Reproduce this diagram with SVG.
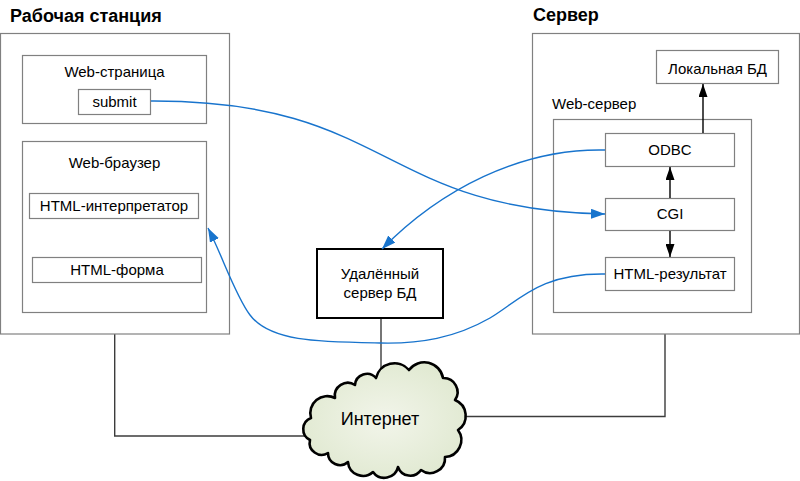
<svg xmlns="http://www.w3.org/2000/svg" width="800" height="481" viewBox="0 0 800 481">
<style>
  text { font-family: "Liberation Sans", Arial, sans-serif; fill: #000; }
  .t { font-size: 15px; text-anchor: middle; }
  .title { font-size: 18px; font-weight: bold; }
  .box { fill: #fff; stroke: #808080; stroke-width: 1.2; }
  .net { fill: none; stroke: #3c3c3c; stroke-width: 1.4; }
  .blue { fill: none; stroke: #1874cd; stroke-width: 1.4; marker-end: url(#ab); }
  .blk { fill: none; stroke: #000; stroke-width: 1.4; marker-end: url(#ak); }
</style>
<defs>
  <marker id="ab" viewBox="0 0 14 10" refX="14" refY="5" markerWidth="14" markerHeight="10" markerUnits="userSpaceOnUse" orient="auto">
    <path d="M0,0 L14,5 L0,10 z" fill="#1874cd"/>
  </marker>
  <marker id="ak" viewBox="0 0 13 9" refX="13" refY="4.5" markerWidth="13" markerHeight="9" markerUnits="userSpaceOnUse" orient="auto">
    <path d="M0,0 L13,4.5 L0,9 z" fill="#000"/>
  </marker>
  <radialGradient id="cg" cx="0.5" cy="0.5" r="0.6">
    <stop offset="0" stop-color="#f2f5ea"/>
    <stop offset="1" stop-color="#dfe8cf"/>
  </radialGradient>
</defs>

<g id="network">
  <path class="net" d="M114.7,334 V436 H306"/>
  <path class="net" d="M665,334 V416.5 H458"/>
  <path class="net" d="M381,318 V376"/>
</g>

<g id="workstation">
  <text class="title" x="10" y="22">Рабочая станция</text>
  <rect class="box" x="0.5" y="33.5" width="229" height="300.5"/>
</g>
<g id="webpage">
  <rect class="box" x="22.5" y="55.5" width="184" height="68"/>
  <text class="t" x="114.5" y="77">Web-страница</text>
</g>
<g id="submit">
  <rect class="box" x="78.5" y="89.5" width="72" height="25"/>
  <text class="t" x="114.5" y="107">submit</text>
</g>
<g id="browser">
  <rect class="box" x="22.5" y="141.5" width="184" height="171"/>
  <text class="t" x="114.5" y="168">Web-браузер</text>
</g>
<g id="interpreter">
  <rect class="box" x="29.5" y="193.5" width="169" height="25"/>
  <text class="t" x="114" y="211">HTML-интерпретатор</text>
</g>
<g id="form">
  <rect class="box" x="32.5" y="257.5" width="169" height="25"/>
  <text class="t" x="117" y="275">HTML-форма</text>
</g>

<g id="server">
  <text class="title" x="533" y="21">Сервер</text>
  <rect class="box" x="532.5" y="33.5" width="267" height="300.5"/>
</g>
<g id="localdb">
  <rect class="box" x="656.5" y="50.5" width="122" height="33"/>
  <text class="t" x="717.5" y="74">Локальная БД</text>
</g>
<g id="webserver">
  <text x="552" y="109" style="font-size:15px">Web-сервер</text>
  <rect class="box" x="553.5" y="119.5" width="198" height="193"/>
</g>
<g id="odbc">
  <rect class="box" x="605.5" y="133.5" width="129" height="33"/>
  <text class="t" x="670" y="155">ODBC</text>
</g>
<g id="cgi">
  <rect class="box" x="605.5" y="198.5" width="129" height="32"/>
  <text class="t" x="670" y="219">CGI</text>
</g>
<g id="result">
  <rect class="box" x="605.5" y="257.5" width="129" height="33"/>
  <text class="t" x="670" y="279">HTML-результат</text>
</g>

<g id="remotedb">
  <rect x="317" y="249" width="126" height="69" fill="#fff" stroke="#000" stroke-width="2"/>
  <text class="t" x="380" y="279">Удалённый</text>
  <text class="t" x="380" y="298">сервер БД</text>
</g>

<g id="internet">
  <path d="M376,378 A19,19 0 0 1 409,370 A19,19 0 0 1 443,378 A14,14 0 0 1 455,400 A17,17 0 0 1 458,430 A17,17 0 0 1 445,457 A15,15 0 0 1 421,470 A13,13 0 0 1 398,467 A14,14 0 0 1 373,472 A15,15 0 0 1 348,462 A12,12 0 0 1 328,453 A12,12 0 0 1 310,440 A12,12 0 0 1 311,418 A17,17 0 0 1 335,398 A13,13 0 0 1 355,385 A12,12 0 0 1 376,378 Z" fill="url(#cg)" stroke="#000" stroke-width="2.6" stroke-linejoin="round"/>
  <text x="380" y="425" style="font-size:18px;text-anchor:middle">Интернет</text>
</g>

<g id="connectors">
  <path class="blk" d="M703,133 V84"/>
  <path class="blk" d="M670,198 V167"/>
  <path class="blk" d="M670,231 V257"/>
  <path class="blue" d="M151,101 C390,100 380,210 605,214"/>
  <path class="blue" d="M605,150 C520,148 440,190 382,249"/>
  <path class="blue" d="M605,274 C540,273 520,300 490,318 C455,338 420,344 380,343 C320,342 270,342 250,315 C235,295 222,255 208,228"/>
</g>
</svg>
